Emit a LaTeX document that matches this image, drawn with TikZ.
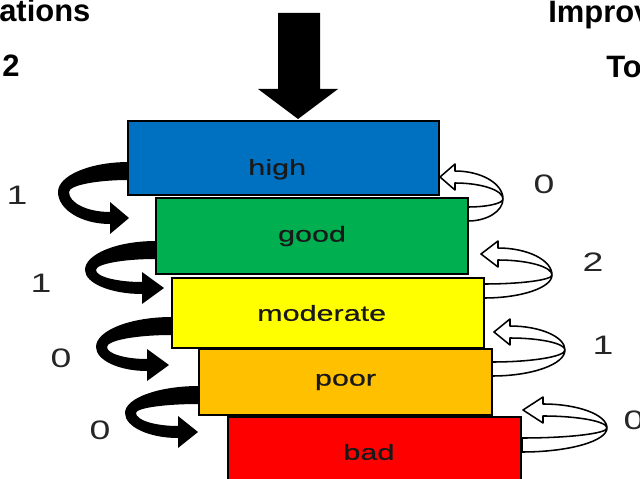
\documentclass[tikz,border=0pt]{standalone}
\usepackage{fontspec}
\setmainfont{Liberation Sans}
\newfontfamily\widefont[FakeStretch=1.4]{Liberation Sans}
\newfontfamily\labelfont[FakeStretch=1.4,FakeBold=0.5]{Liberation Sans}

\definecolor{lvhigh}{HTML}{0070C0}
\definecolor{lvgood}{HTML}{00B050}
\definecolor{lvmoderate}{HTML}{FFFF00}
\definecolor{lvpoor}{HTML}{FFC000}
\definecolor{lvbad}{HTML}{FF0000}

% black loop on the left: #1,#2 start; #3,#4 turn; #5,#6 head base; #7 tip
\newcommand{\downloop}[7]{%
  \fill[black] (#1,#2-9)
    .. controls ({#1-0.55*(#1-#3)},#2-9) and (#3,{#4-0.55*(#4-#2+9)}) .. (#3,#4)
    .. controls (#3,{#4+0.55*(#6+6-#4)}) and ({#5-0.55*(#5-#3)},#6+6) .. (#5,#6+6)
    -- (#5,#6+16) -- (#7,#6) -- (#5,#6-16) -- (#5,#6-6)
    .. controls ({#5-0.55*(#5-#3-11)},#6-6) and (#3+11,{#4+0.55*(#6-6-#4)}) .. (#3+11,#4)
    .. controls (#3+11,{#4-0.55*(#4-#2-9)}) and ({#1-0.55*(#1-#3-11)},#2+9) .. (#1,#2+9)
    -- cycle;}

% white loop on the right
\newcommand{\uploop}[7]{%
  \filldraw[fill=white,draw=black,line width=1.1pt,line join=round] (#1,#2+7)
    .. controls ({#1+0.55*(#3-#1)},#2+7) and (#3,{#4+0.55*(#2+7-#4)}) .. (#3,#4)
    .. controls (#3,{#4-0.55*(#4-#6+6)}) and ({#5+0.55*(#3-#5)},#6-6) .. (#5,#6-6)
    -- (#5,#6-13) -- (#7,#6) -- (#5,#6+13) -- (#5,#6+6)
    .. controls ({#5+0.55*(#3-#5)},#6+6) and (#3,{#4-0.55*(#4-#6-6)}) .. (#3,#4)
    .. controls (#3,{#4+0.55*(#2-7-#4)}) and ({#1+0.55*(#3-#1)},#2-7) .. (#1,#2-7)
    -- cycle;}

\begin{document}
\begin{tikzpicture}[x=0.025cm,y=-0.025cm,
  box/.style={draw=black,line width=1.3pt,inner sep=0pt,
    font=\labelfont\fontsize{15.5}{18}\selectfont,text=black!90},
  count/.style={inner sep=0pt,font=\widefont\fontsize{19}{22}\selectfont,text=black!85},
  heading/.style={inner sep=0pt,anchor=base west,font=\fontsize{22}{26}\selectfont\bfseries}]
  \useasboundingbox (0,0) rectangle (640,479);
  \clip (0,0) rectangle (640,479);

  % headings (cut at the edges)
  \node[heading] (head-l1) at (-1,22) {ations};
  \node[heading] (head-l2) at (2,77) {2};
  \node[heading] (head-r1) at (548,23) {Improv};
  \node[heading] (head-r2) at (606,78) {To};

  % arrow from above
  \fill[black] (278,13) -- (320,13) -- (320,89) -- (338,89) -- (298,119)
    -- (258,89) -- (278,89) -- cycle;

  % loops down (left)
  \downloop{129}{171}{58}{192}{110}{218}{129}
  \downloop{156}{250}{85}{270}{142}{288}{164}
  \downloop{172}{326}{96}{347}{147}{365}{169}
  \downloop{199}{395}{125}{413}{178}{432}{198}

  % loops up (right)
  \uploop{468}{214}{503}{199}{455}{177}{440}
  \uploop{484}{291}{552}{275}{498}{254}{481}
  \uploop{492}{369}{565}{350}{510}{332}{494}
  \uploop{522}{445}{607}{428}{543}{410}{523}

  % levels
  \node[box,fill=lvhigh,minimum width=7.775cm,minimum height=1.85cm,
    text height=24pt,text depth=0pt] (high) at (283.5,158) {high\kern9pt};
  \node[box,fill=lvgood,minimum width=7.8cm,minimum height=1.9cm] (good) at (312,236) {good};
  \node[box,fill=lvmoderate,minimum width=7.8cm,minimum height=1.75cm] (moderate) at (328,313) {moderate\kern9pt};
  \node[box,fill=lvpoor,minimum width=7.325cm,minimum height=1.65cm] (poor) at (345.5,382) {poor};
  \node[box,fill=lvbad,minimum width=7.325cm,minimum height=1.75cm] (bad) at (374.5,452) {bad\kern8pt};

  % counts
  \node[count] (down-1) at (17,195) {1};
  \node[count] (down-2) at (41,283) {1};
  \node[count] (down-3) at (61,358) {0};
  \node[count] (down-4) at (100,430) {0};
  \node[count] (up-1) at (544,184) {0};
  \node[count] (up-2) at (593,262) {2};
  \node[count] (up-3) at (603,345) {1};
  \node[count] (up-4) at (634,420) {0};
\end{tikzpicture}
\end{document}
